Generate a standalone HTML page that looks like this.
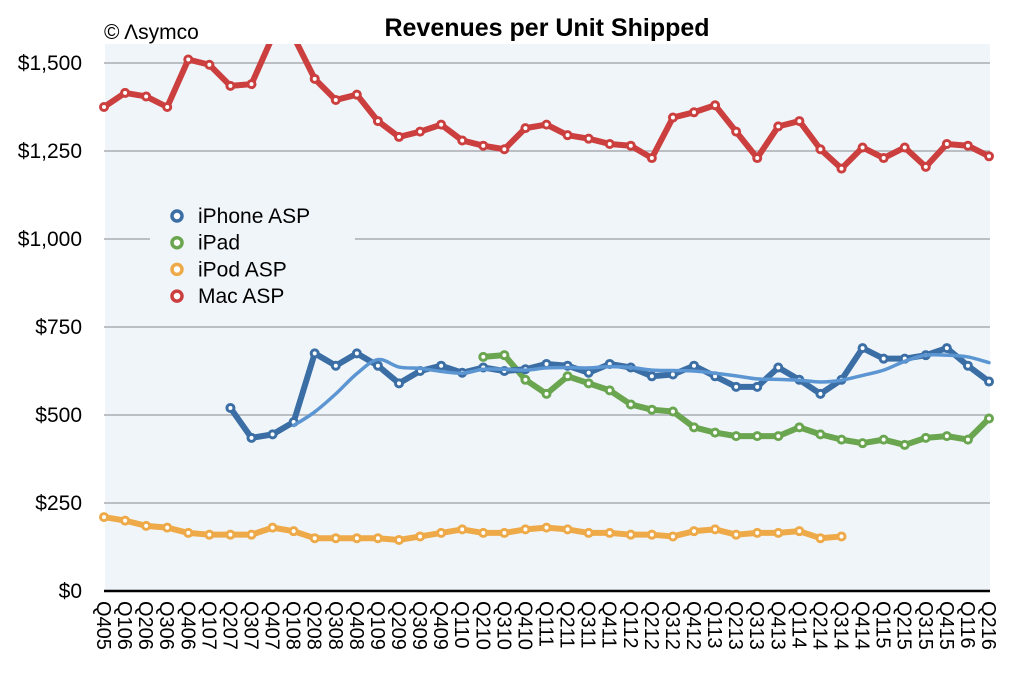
<!DOCTYPE html>
<html><head><meta charset="utf-8"><style>
body{margin:0;background:#fff;}
svg text{font-family:"Liberation Sans",Arial,sans-serif;}
</style></head><body>
<svg id="chart" width="1022" height="678" xmlns="http://www.w3.org/2000/svg">
<defs><clipPath id="clip"><rect x="90" y="44" width="910" height="560"/></clipPath></defs>
<rect x="105" y="44" width="885" height="547" fill="#f0f5fa"/>
<g id="grid"></g>
<text x="547" y="36" text-anchor="middle" font-size="25" font-weight="bold">Revenues per Unit Shipped</text>
<text x="104" y="39" font-size="21">© Λsymco</text>
<g id="series" clip-path="url(#clip)"></g>
<g id="legend"></g>
<g id="xlabels"></g>
</svg>
<script>
const quarters=["Q405","Q106","Q206","Q306","Q406","Q107","Q207","Q307","Q407","Q108","Q208","Q308","Q408","Q109","Q209","Q309","Q409","Q110","Q210","Q310","Q410","Q111","Q211","Q311","Q411","Q112","Q212","Q312","Q412","Q113","Q213","Q313","Q413","Q114","Q214","Q314","Q414","Q115","Q215","Q315","Q415","Q116","Q216"];
const yTicks=[0,250,500,750,1000,1250,1500];
const yTickLabels=["$0","$250","$500","$750","$1,000","$1,250","$1,500"];
const macASP=[1375,1415,1405,1375,1510,1495,1435,1440,1575,1575,1455,1395,1410,1335,1290,1305,1325,1280,1265,1255,1315,1325,1295,1285,1270,1265,1230,1345,1360,1380,1305,1230,1320,1335,1255,1200,1260,1230,1260,1205,1270,1265,1235];
const iphoneStart=6;
const iphoneASP=[520,435,445,480,675,640,675,640,590,625,640,620,635,625,630,645,640,620,645,635,610,615,640,610,580,580,635,600,560,600,690,660,660,670,690,640,595];
const ipadStart=18;
const ipadASP=[665,670,600,560,610,590,570,530,515,510,465,450,440,440,440,465,445,430,420,430,415,435,440,430,490];
const ipodStart=0;
const ipodASP=[210,200,185,180,165,160,160,160,180,170,150,150,150,150,145,155,165,175,165,165,175,180,175,165,165,160,160,155,170,175,160,165,165,170,150,155];

const NS="http://www.w3.org/2000/svg";
const X0=104,X1=989,Y0=591,Y1=63,VMAX=1500;
function xs(i){return X0+(X1-X0)*i/(quarters.length-1);}
function ys(v){return Y0-(Y0-Y1)*v/VMAX;}
function mk(tag,attrs,parent){const e=document.createElementNS(NS,tag);for(const k in attrs)e.setAttribute(k,attrs[k]);parent.appendChild(e);return e;}
const grid=document.getElementById('grid');
yTicks.forEach((t,k)=>{
  const l=mk('line',{x1:104,x2:990,y1:ys(t),y2:ys(t),stroke:t===0?'#000':'#a9acb0','stroke-width':t===0?2.5:1.5},grid);
  
  
  const tx=mk('text',{x:82,y:ys(t)+7,'text-anchor':'end','font-size':21},grid);
  tx.textContent=yTickLabels[k];
  
  
});
const xl=document.getElementById('xlabels');
quarters.forEach((q,i)=>{
  const t=mk('text',{x:0,y:0,'font-size':20,transform:`translate(${xs(i)-7},601) rotate(90)`},xl);
  t.textContent=q;
  
  
});
const sg=document.getElementById('series');
function pts(arr,start){return arr.map((v,j)=>[xs(start+j),ys(v)]);}
function drawSeries(arr,start,color,name){
  const g=mk('g',{},sg);
  
  
  const p=pts(arr,start);
  mk('polyline',{points:p.map(a=>a.join(',')).join(' '),fill:'none',stroke:color,'stroke-width':6,'stroke-linejoin':'round','stroke-linecap':'round'},g);
  p.forEach(a=>{
    const c=mk('circle',{cx:a[0],cy:a[1],r:5,fill:color},g);
    
    
    mk('circle',{cx:a[0],cy:a[1],r:2,fill:'#fff'},g);
  });
}
function smoothPath(p){
  let d=`M${p[0][0]},${p[0][1]}`;
  for(let i=0;i<p.length-1;i++){
    const p0=p[Math.max(0,i-1)],p1=p[i],p2=p[i+1],p3=p[Math.min(p.length-1,i+2)];
    const c1=[p1[0]+(p2[0]-p0[0])/6,p1[1]+(p2[1]-p0[1])/6];
    const c2=[p2[0]-(p3[0]-p1[0])/6,p2[1]-(p3[1]-p1[1])/6];
    d+=` C${c1[0]},${c1[1]} ${c2[0]},${c2[1]} ${p2[0]},${p2[1]}`;
  }
  return d;
}
drawSeries(macASP,0,'#cc3f3f','mac-asp-series');
drawSeries(ipodASP,ipodStart,'#eeaa48','ipod-asp-series');
drawSeries(ipadASP,ipadStart,'#6aa54f','ipad-series');
drawSeries(iphoneASP,iphoneStart,'#3a6ea5','iphone-asp-series');
const trend=[];
for(let j=3;j<iphoneASP.length;j++)trend.push((iphoneASP[j]+iphoneASP[j-1]+iphoneASP[j-2]+iphoneASP[j-3])/4);
const tp=mk('path',{d:smoothPath(pts(trend,iphoneStart+3)),fill:'none',stroke:'#5b95d2','stroke-width':3.5,'stroke-linecap':'round'},sg);


const lg=document.getElementById('legend');
mk('rect',{x:150,y:200,width:205,height:110,fill:'#f0f5fa'},lg);
mk('rect',{x:150,y:236,width:205,height:8,fill:'#f0f5fa'},lg);
const legNames=["iPhone ASP","iPad","iPod ASP","Mac ASP"];
const legColors=['#3a6ea5','#6aa54f','#eeaa48','#cc3f3f'];
legNames.forEach((n,k)=>{
  const y=216+k*26.7;
  const g=mk('g',{},lg);
  
  
  mk('circle',{cx:177,cy:y,r:5,fill:'#fff',stroke:legColors[k],'stroke-width':3.5},g);
  const t=mk('text',{x:198,y:y+7,'font-size':21},g);
  t.textContent=n;
});
</script>
</body></html>
